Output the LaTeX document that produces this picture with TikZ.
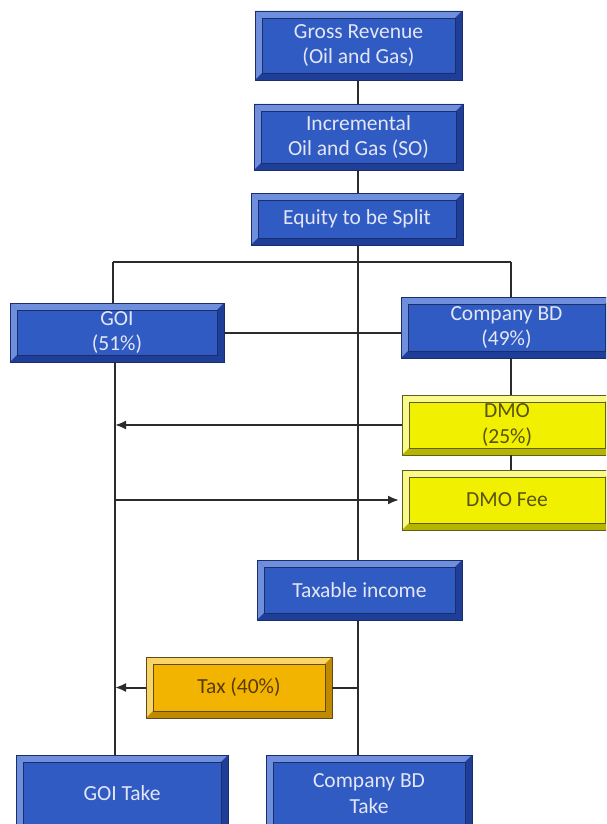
\documentclass[tikz,border=0pt]{standalone}
\usepackage{fontspec}
\setmainfont{Carlito}
\usetikzlibrary{arrows.meta}
\definecolor{bface}{HTML}{2F5BC3}
\definecolor{blight}{HTML}{6F8EDC}
\definecolor{bdark}{HTML}{1E3E98}
\definecolor{bline}{HTML}{1A2E6E}
\definecolor{btext}{HTML}{E4E6F6}
\definecolor{yface}{HTML}{F0F000}
\definecolor{ylight}{HTML}{FAFA8A}
\definecolor{ydark}{HTML}{B5B500}
\definecolor{yline}{HTML}{5E5E1E}
\definecolor{ytext}{HTML}{5A5210}
\definecolor{oface}{HTML}{F2B400}
\definecolor{olight}{HTML}{F9D466}
\definecolor{odark}{HTML}{C08A00}
\definecolor{oline}{HTML}{5E4A1E}
\definecolor{otext}{HTML}{5A3C08}
\definecolor{conn}{HTML}{2B2B2B}
\tikzset{
  bevbox/.style n args={5}{rectangle, inner sep=0pt, outer sep=0pt,
    fill=#1, draw=#4, line width=0.9pt, text=#5, align=center,
    font=\fontsize{21.5}{25.5}\selectfont,
    path picture={
      \fill[#2] (path picture bounding box.north west) -- (path picture bounding box.north east)
        -- ([xshift=-7pt,yshift=-7pt]path picture bounding box.north east)
        -- ([xshift=7pt,yshift=-7pt]path picture bounding box.north west) -- cycle;
      \fill[#2] (path picture bounding box.north west) -- (path picture bounding box.south west)
        -- ([xshift=7pt,yshift=7pt]path picture bounding box.south west)
        -- ([xshift=7pt,yshift=-7pt]path picture bounding box.north west) -- cycle;
      \fill[#3] (path picture bounding box.south west) -- (path picture bounding box.south east)
        -- ([xshift=-7pt,yshift=7pt]path picture bounding box.south east)
        -- ([xshift=7pt,yshift=7pt]path picture bounding box.south west) -- cycle;
      \fill[#3] (path picture bounding box.north east) -- (path picture bounding box.south east)
        -- ([xshift=-7pt,yshift=7pt]path picture bounding box.south east)
        -- ([xshift=-7pt,yshift=-7pt]path picture bounding box.north east) -- cycle;
      \draw[#4, line width=0.5pt] ([xshift=7pt,yshift=-7pt]path picture bounding box.north west)
        rectangle ([xshift=-7pt,yshift=7pt]path picture bounding box.south east);
    }},
  bluebox/.style={bevbox={bface}{blight}{bdark}{bline}{btext}},
  yellowbox/.style={bevbox={yface}{ylight}{ydark}{yline}{ytext}},
  orangebox/.style={bevbox={oface}{olight}{odark}{oline}{otext}},
  conline/.style={draw=conn, line width=2pt},
  arr/.style={conline, -{Latex[length=11pt,width=9pt]}},
}
\begin{document}
\begin{tikzpicture}[x=1pt,y=-1pt]
\path[use as bounding box, fill=white] (0,0) rectangle (606,824);
\clip (0,0) rectangle (606,824);
% boxes
\node[bluebox, minimum width=207pt, minimum height=69pt] (gr) at (358.5,45.5) {Gross Revenue\\(Oil and Gas)};
\node[bluebox, minimum width=209pt, minimum height=66pt] (inc) at (358.5,137) {Incremental\\Oil and Gas (SO)};
\node[bluebox, minimum width=212pt, minimum height=52pt] (eq) at (357,219) {Equity to be Split};
\node[bluebox, minimum width=214pt, minimum height=59pt] (goi) at (117,332.5) {GOI\\(51\%)};
\node[bluebox, minimum width=211pt, minimum height=61pt] (cbd) at (506.5,327.5) {Company BD\\(49\%)};
\node[yellowbox, minimum width=210pt, minimum height=60pt] (dmo) at (507,425) {DMO\\(25\%)};
\node[yellowbox, minimum width=210pt, minimum height=60pt] (fee) at (507,500) {DMO Fee};
\node[bluebox, minimum width=205pt, minimum height=60pt] (ti) at (359.5,590) {Taxable income};
\node[orangebox, minimum width=186pt, minimum height=61pt] (tax) at (239,687.5) {Tax (40\%)};
\node[bluebox, minimum width=212pt, minimum height=77pt] (goit) at (122,793.5) {GOI Take};
\node[bluebox, minimum width=206pt, minimum height=77pt] (cbdt) at (369,793.5) {Company BD\\Take};
% helper coordinates
\coordinate (cx) at (358,0);
\coordinate (gx) at (115,0);
\coordinate (jl) at (113,262);
\coordinate (jr) at (511,262);
% connectors
\draw[conline] (gr.south -| cx) -- (inc.north -| cx);
\draw[conline] (inc.south -| cx) -- (eq.north -| cx);
\draw[conline] (eq.south -| cx) -- (ti.north -| cx);
\draw[conline] (jl) -- (jr);
\draw[conline] (jl) -- (jl |- goi.north);
\draw[conline] (jr) -- (jr |- cbd.north);
\draw[conline] (goi.east) -- (cbd.west |- goi.east);
\draw[conline] (cbd.south -| jr) -- (dmo.north -| jr);
\draw[conline] (dmo.south -| jr) -- (fee.north -| jr);
\draw[conline] (goi.south -| gx) -- (goit.north -| gx);
\draw[arr] (dmo.west) -- (dmo.west -| gx);
\draw[arr, shorten >=3pt] (fee.west -| gx) -- (fee.west);
\draw[conline] (ti.south -| cx) -- (cbdt.north -| cx);
\draw[conline] (tax.east -| cx) -- (tax.east);
\draw[arr] (tax.west) -- (tax.west -| gx);
\end{tikzpicture}
\end{document}
